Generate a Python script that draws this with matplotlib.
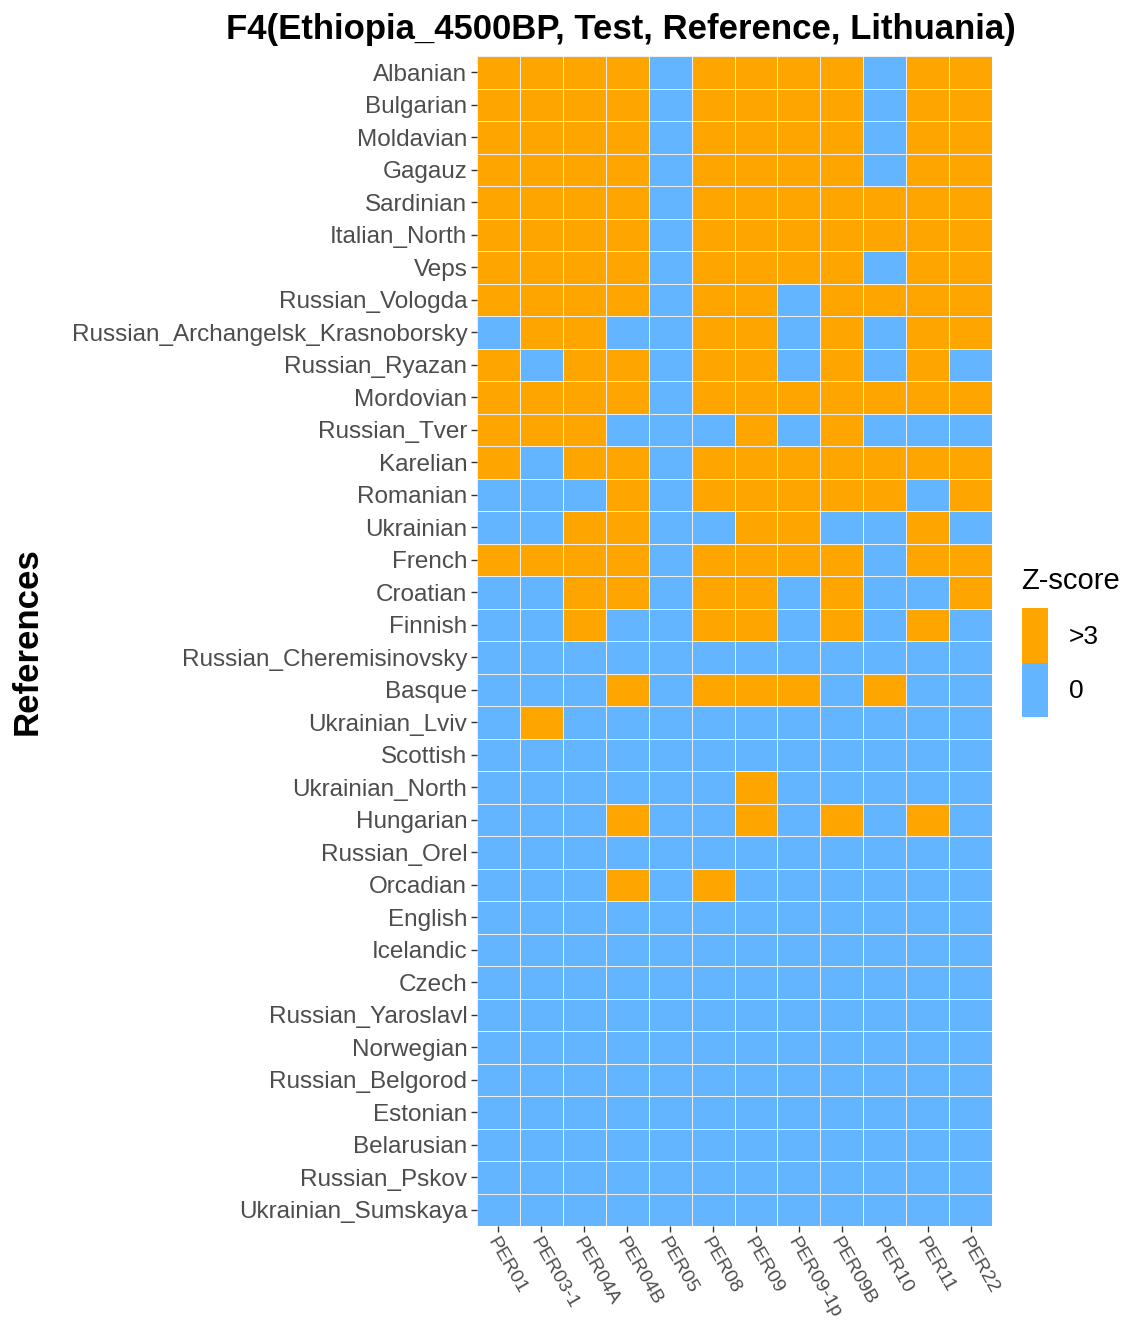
import numpy as np
import matplotlib
matplotlib.use("Agg")
import matplotlib.pyplot as plt
from matplotlib.colors import ListedColormap
from matplotlib.patches import Patch

plt.rcParams["font.family"] = ["Liberation Sans", "DejaVu Sans"]

samples = ["PER01", "PER03-1", "PER04A", "PER04B", "PER05", "PER08", "PER09",
           "PER09-1p", "PER09B", "PER10", "PER11", "PER22"]

references = ["Albanian", "Bulgarian", "Moldavian", "Gagauz", "Sardinian",
              "Italian_North", "Veps", "Russian_Vologda",
              "Russian_Archangelsk_Krasnoborsky", "Russian_Ryazan", "Mordovian",
              "Russian_Tver", "Karelian", "Romanian", "Ukrainian", "French",
              "Croatian", "Finnish", "Russian_Cheremisinovsky", "Basque",
              "Ukrainian_Lviv", "Scottish", "Ukrainian_North", "Hungarian",
              "Russian_Orel", "Orcadian", "English", "Icelandic", "Czech",
              "Russian_Yaroslavl", "Norwegian", "Russian_Belgorod", "Estonian",
              "Belarusian", "Russian_Pskov", "Ukrainian_Sumskaya"]

# 1 = Z-score > 3, 0 = not significant
zscore = [
    [1, 1, 1, 1, 0, 1, 1, 1, 1, 0, 1, 1],
    [1, 1, 1, 1, 0, 1, 1, 1, 1, 0, 1, 1],
    [1, 1, 1, 1, 0, 1, 1, 1, 1, 0, 1, 1],
    [1, 1, 1, 1, 0, 1, 1, 1, 1, 0, 1, 1],
    [1, 1, 1, 1, 0, 1, 1, 1, 1, 1, 1, 1],
    [1, 1, 1, 1, 0, 1, 1, 1, 1, 1, 1, 1],
    [1, 1, 1, 1, 0, 1, 1, 1, 1, 0, 1, 1],
    [1, 1, 1, 1, 0, 1, 1, 0, 1, 1, 1, 1],
    [0, 1, 1, 0, 0, 1, 1, 0, 1, 0, 1, 1],
    [1, 0, 1, 1, 0, 1, 1, 0, 1, 0, 1, 0],
    [1, 1, 1, 1, 0, 1, 1, 1, 1, 1, 1, 1],
    [1, 1, 1, 0, 0, 0, 1, 0, 1, 0, 0, 0],
    [1, 0, 1, 1, 0, 1, 1, 1, 1, 1, 1, 1],
    [0, 0, 0, 1, 0, 1, 1, 1, 1, 1, 0, 1],
    [0, 0, 1, 1, 0, 0, 1, 1, 0, 0, 1, 0],
    [1, 1, 1, 1, 0, 1, 1, 1, 1, 0, 1, 1],
    [0, 0, 1, 1, 0, 1, 1, 0, 1, 0, 0, 1],
    [0, 0, 1, 0, 0, 1, 1, 0, 1, 0, 1, 0],
    [0, 0, 0, 0, 0, 0, 0, 0, 0, 0, 0, 0],
    [0, 0, 0, 1, 0, 1, 1, 1, 0, 1, 0, 0],
    [0, 1, 0, 0, 0, 0, 0, 0, 0, 0, 0, 0],
    [0, 0, 0, 0, 0, 0, 0, 0, 0, 0, 0, 0],
    [0, 0, 0, 0, 0, 0, 1, 0, 0, 0, 0, 0],
    [0, 0, 0, 1, 0, 0, 1, 0, 1, 0, 1, 0],
    [0, 0, 0, 0, 0, 0, 0, 0, 0, 0, 0, 0],
    [0, 0, 0, 1, 0, 1, 0, 0, 0, 0, 0, 0],
    [0, 0, 0, 0, 0, 0, 0, 0, 0, 0, 0, 0],
    [0, 0, 0, 0, 0, 0, 0, 0, 0, 0, 0, 0],
    [0, 0, 0, 0, 0, 0, 0, 0, 0, 0, 0, 0],
    [0, 0, 0, 0, 0, 0, 0, 0, 0, 0, 0, 0],
    [0, 0, 0, 0, 0, 0, 0, 0, 0, 0, 0, 0],
    [0, 0, 0, 0, 0, 0, 0, 0, 0, 0, 0, 0],
    [0, 0, 0, 0, 0, 0, 0, 0, 0, 0, 0, 0],
    [0, 0, 0, 0, 0, 0, 0, 0, 0, 0, 0, 0],
    [0, 0, 0, 0, 0, 0, 0, 0, 0, 0, 0, 0],
    [0, 0, 0, 0, 0, 0, 0, 0, 0, 0, 0, 0],
]

legend_labels = [">3", "0"]
blue = "#63B5FF"
orange = "#FFA500"

fig = plt.figure(figsize=(11.35, 13.21), dpi=100)
ax = fig.add_axes([477 / 1135, 1 - 1226 / 1321, 515 / 1135, 1170 / 1321])

z = np.array(zscore)
ax.pcolormesh(np.arange(len(samples) + 1), np.arange(len(references) + 1), z,
              cmap=ListedColormap([blue, orange]), vmin=0, vmax=1,
              edgecolors="#EEEEEE", linewidth=0.6)
ax.set_xlim(0, len(samples))
ax.set_ylim(len(references), 0)

ax.set_xticks(np.arange(len(samples)) + 0.5)
ax.set_xticklabels(samples, rotation=-60, ha="left", va="top",
                   rotation_mode="anchor", fontsize=14, color="#4D4D4D")
ax.set_yticks(np.arange(len(references)) + 0.5)
ax.set_yticklabels(references, fontsize=17.5, color="#4D4D4D")
ax.tick_params(length=4, width=1, color="#333333", pad=3)
ax.tick_params(axis="x", pad=2)
for s in ax.spines.values():
    s.set_visible(False)

ax.set_title("F4(Ethiopia_4500BP, Test, Reference, Lithuania)",
             fontsize=25, fontweight="bold", pad=12, x=0.28)
fig.text(27 / 1135, 1 - 641 / 1321, "References", rotation=90, fontsize=25,
         fontweight="bold", ha="center", va="center")

handles = [Patch(facecolor=orange, edgecolor="none"),
           Patch(facecolor=blue, edgecolor="none")]
leg = fig.legend(handles, legend_labels, title="Z-score", loc="upper left",
                 bbox_to_anchor=(1011 / 1135, 1 - 556 / 1321), frameon=False,
                 fontsize=19, title_fontsize=21, handlelength=1.0,
                 handleheight=2.8, labelspacing=0.0, handletextpad=0.8,
                 borderaxespad=0)
leg._legend_box.align = "left"
leg._legend_box.sep = 10

fig.savefig("out.png", dpi=100)
